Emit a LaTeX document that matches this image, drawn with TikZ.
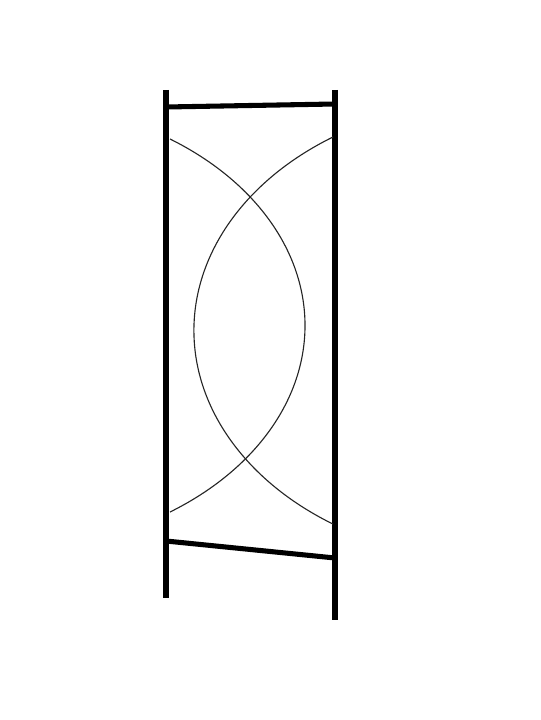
\documentclass[tikz,border=0pt]{standalone}
\tikzset{
    %Define style for the heavy posts
    post/.style={
           line width=4.3pt,
           line cap=butt},
    %Define style for the cross bars
    rail/.style={
           line width=3.6pt},
    % Define style for the thin arcs
    arcline/.style={
           line width=0.8pt,
           black!85}
}
\begin{document}
\begin{tikzpicture}[x=0.025cm, y=-0.025cm]
    \useasboundingbox (0,0) rectangle (540,720);
 %points
    \coordinate (ltop) at (166,90);
    \coordinate (lbot) at (166,598);
    \coordinate (rtop) at (335,90);
    \coordinate (rbot) at (335,620);
    \coordinate (tbl) at (166,107);
    \coordinate (tbr) at (335,104);
    \coordinate (bbl) at (166,541);
    \coordinate (bbr) at (335,558);
    \coordinate (atop) at (170,139);
    \coordinate (btop) at (333,137);
 %posts and bars
    \draw[post] (ltop) -- (lbot);
    \draw[post] (rtop) -- (rbot);
    \draw[rail] (tbl) -- (tbr);
    \draw[rail] (bbl) -- (bbr);
 %arcs
    \draw[arcline] (atop) arc[start angle=56.12, end angle=-56.12,
                              x radius=7.625cm, y radius=5.615cm];
    \draw[arcline] (btop) arc[start angle=122.96, end angle=237.04,
                              x radius=7.625cm, y radius=5.765cm];
\end{tikzpicture}
\end{document}
